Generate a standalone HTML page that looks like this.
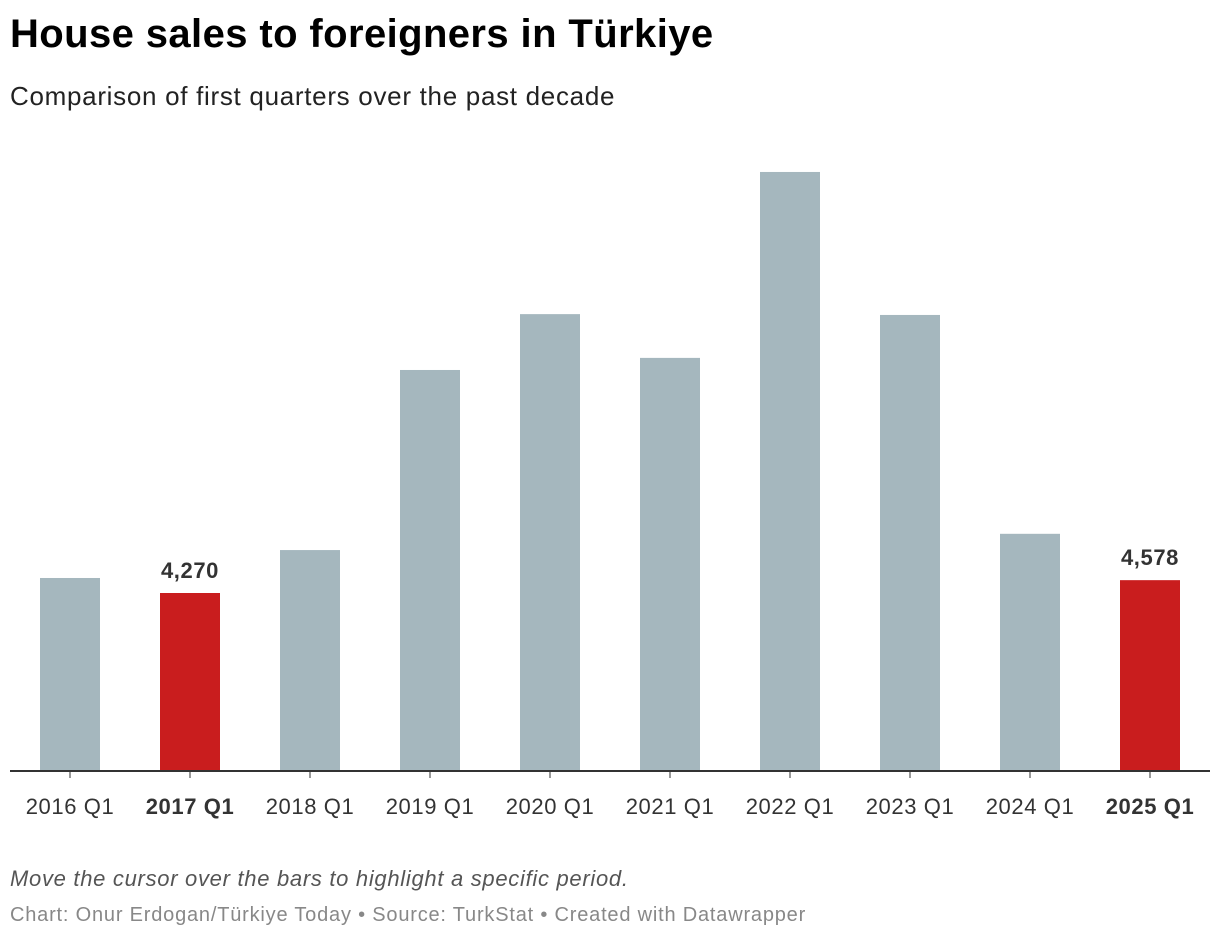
<!DOCTYPE html>
<html><head><meta charset="utf-8">
<style>
body{margin:0;background:#fff;width:1220px;height:940px;overflow:hidden;font-family:"Liberation Sans",Arial,sans-serif;}
#title{position:absolute;left:10px;top:12px;font-size:40px;font-weight:bold;color:#000;letter-spacing:0.4px;white-space:nowrap;}
#sub{position:absolute;left:10px;top:81px;font-size:26px;color:#222;letter-spacing:0.7px;white-space:nowrap;}
#note{position:absolute;left:10px;top:866px;font-size:22px;font-style:italic;color:#555;letter-spacing:0.7px;white-space:nowrap;}
#src{position:absolute;left:10px;top:904px;font-size:20px;color:#888;letter-spacing:0.8px;white-space:nowrap;}
svg{position:absolute;left:0;top:0;}
</style></head><body>
<div id="title">House sales to foreigners in Türkiye</div>
<div id="sub">Comparison of first quarters over the past decade</div>
<svg id="chart" width="1220" height="940"></svg>
<div id="note">Move the cursor over the bars to highlight a specific period.</div>
<div id="src">Chart: Onur Erdogan/Türkiye Today • Source: TurkStat • Created with Datawrapper</div>
<script>
const categories=["2016 Q1","2017 Q1","2018 Q1","2019 Q1","2020 Q1","2021 Q1","2022 Q1","2023 Q1","2024 Q1","2025 Q1"];
const values=[4630,4270,5300,9620,10960,9910,14370,10940,5690,4578];
const highlighted=["2017 Q1","2025 Q1"];
const svg=document.getElementById('chart');
const NS="http://www.w3.org/2000/svg";
const baseY=771, pxPer=178/4270, x0=70, step=120, bw=60;
const x=i=>x0+i*step;
const y=v=>baseY-v*pxPer;
function mk(t,a){const e=document.createElementNS(NS,t);for(const k in a)e.setAttribute(k,a[k]);svg.appendChild(e);return e;}
categories.forEach((c,i)=>{
  const hl=highlighted.includes(c);
  const r=mk('rect',{x:x(i)-bw/2,y:y(values[i]),width:bw,height:baseY-y(values[i]),fill:hl?'#c91d1e':'#a5b7be'});
  
  
  const tk=mk('line',{x1:x(i),x2:x(i),y1:baseY,y2:baseY+7,stroke:'#333','stroke-width':1});
  
  
  const t=mk('text',{x:x(i),y:baseY+43,'text-anchor':'middle','font-size':22,fill:'#333','letter-spacing':'0.6','font-weight':hl?'bold':'normal','font-family':'Liberation Sans, Arial, sans-serif'});
  t.textContent=c;
  
  
  if(hl){
    const v=mk('text',{x:x(i),y:y(values[i])-15,'text-anchor':'middle','font-size':22,fill:'#333','letter-spacing':'0.6','font-weight':'bold','font-family':'Liberation Sans, Arial, sans-serif'});
    v.textContent=values[i].toLocaleString('en-US');
    
    
  }
});
const ax=mk('line',{x1:10,x2:1210,y1:baseY,y2:baseY,stroke:'#333','stroke-width':2});


</script>
</body></html>
